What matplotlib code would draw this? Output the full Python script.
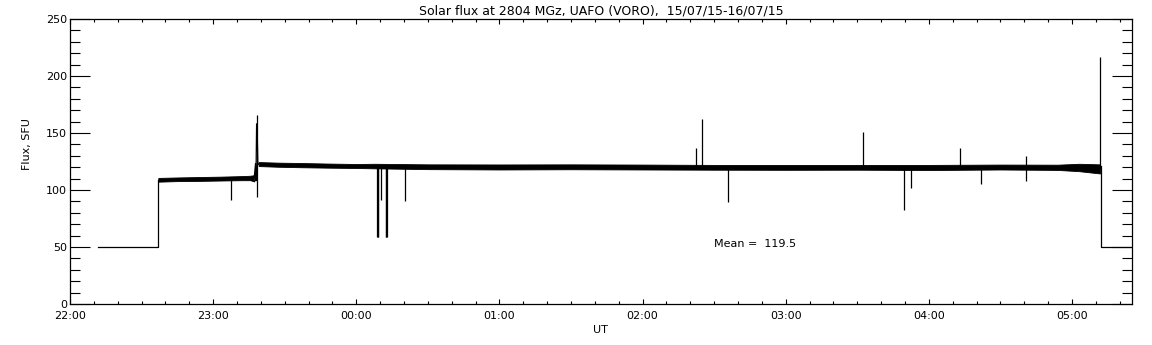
import numpy as np
import matplotlib
matplotlib.use("Agg")
import matplotlib.pyplot as plt
from matplotlib.ticker import FuncFormatter, MultipleLocator

# time in hours after 22:00 UT
# quiet level before/after the receiver was on target
pre_t = [0.196, 0.617, 0.617]
pre_v = [50, 50, 108.5]
post_t = [7.205, 7.205, 7.4167]
post_v = [121, 50, 50]

# noisy band: lower / upper envelope
band1_t = [0.617, 0.75, 0.909, 1.05, 1.20, 1.259, 1.287]
band1_lo = [107.3, 107.8, 108.0, 108.3, 108.6, 108.6, 107.5]
band1_hi = [110.6, 111.0, 111.4, 111.7, 112.2, 112.5, 113.0]

band2_t = [1.318, 1.45, 1.6, 1.8, 2.0, 2.13, 2.5, 3.0, 3.5, 4.0, 4.5,
           5.0, 5.5, 6.0, 6.5, 6.9, 7.05, 7.195]
band2_lo = [121.0, 120.4, 120.0, 119.6, 119.3, 119.0, 118.3, 118.0, 118.2,
            118.0, 117.8, 117.7, 117.8, 117.5, 118.0, 117.6, 116.5, 114.5]
band2_hi = [124.5, 124.0, 123.7, 123.2, 122.8, 123.0, 122.5, 122.4, 122.5,
            122.3, 122.0, 122.0, 122.0, 122.0, 122.3, 122.2, 123.0, 122.5]

# step up around 23:18
trans_t = [1.287, 1.296, 1.299, 1.3035, 1.307, 1.312, 1.318]
trans_v = [111, 123, 108, 158, 156, 124, 122.5]

# single-sample spikes and dropouts: time, min, max
spike_t = [1.128, 1.303, 2.146, 2.149, 2.152, 2.170, 2.205, 2.208, 2.211,
           2.338, 4.373, 4.415, 4.597, 5.541, 5.827, 5.876, 6.219, 6.366,
           6.680, 7.198]
spike_lo = [91, 94, 59, 59, 59, 91, 59, 59, 59,
            90.5, 119, 119, 89.7, 119, 82.5, 102, 119, 105.3,
            108, 118]
spike_hi = [110, 166, 121, 121, 121, 121, 121, 121, 121,
            121, 136.6, 162.3, 121, 150.9, 121, 121, 136.8, 121,
            130, 216.4]

mean_flux = 119.5
hour_labels = ["22:00", "23:00", "00:00", "01:00", "02:00", "03:00", "04:00", "05:00"]

fig = plt.figure(figsize=(11.52, 3.45), dpi=100)
ax = fig.add_axes([70 / 1152, 41 / 345, 1061.7 / 1152, 285 / 345])

lw = 0.9
ax.plot(pre_t, pre_v, color="black", lw=lw)
ax.plot(post_t, post_v, color="black", lw=lw)
ax.plot(trans_t, trans_v, color="black", lw=lw)
ax.fill_between(band1_t, band1_lo, band1_hi, color="black", lw=0.6, edgecolor="black")
ax.fill_between(band2_t, band2_lo, band2_hi, color="black", lw=0.6, edgecolor="black")
ax.vlines(spike_t, spike_lo, spike_hi, color="black", lw=lw)

ax.text(4.497, 52.5, "Mean =  %.1f" % mean_flux, fontsize=8, va="center", ha="left")

ax.set_xlim(0, 7.4167)
ax.set_ylim(0, 250)
ax.xaxis.set_major_locator(MultipleLocator(1))
ax.xaxis.set_minor_locator(MultipleLocator(1 / 6))
ax.xaxis.set_major_formatter(FuncFormatter(
    lambda v, p: hour_labels[int(round(v))] if 0 <= round(v) < len(hour_labels) else ""))
ax.yaxis.set_major_locator(MultipleLocator(50))
ax.yaxis.set_minor_locator(MultipleLocator(10))

ax.tick_params(axis="x", which="major", direction="in", length=3.6, width=0.8,
               top=True, labelsize=8, pad=5)
ax.tick_params(axis="x", which="minor", direction="in", length=2, width=0.8, top=True)
ax.tick_params(axis="y", which="major", direction="in", length=14.5, width=0.8,
               right=True, labelsize=8, pad=2)
ax.tick_params(axis="y", which="minor", direction="in", length=7.5, width=0.8, right=True)
for s in ax.spines.values():
    s.set_linewidth(0.9)

ax.set_title("Solar flux at 2804 MGz, UAFO (VORO),  15/07/15-16/07/15", fontsize=9, pad=3)
ax.set_xlabel("UT", fontsize=8, labelpad=3)
ax.set_ylabel("Flux, SFU", fontsize=8)
ax.yaxis.set_label_coords(-0.036, 0.56)

fig.savefig("out.png", dpi=100)
